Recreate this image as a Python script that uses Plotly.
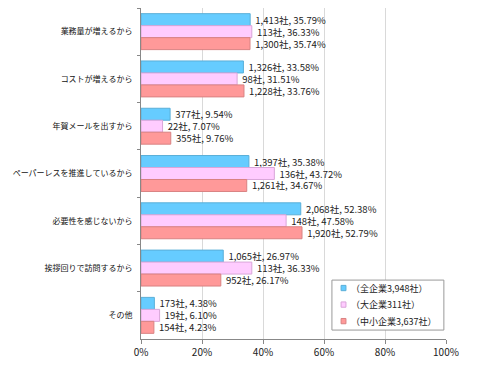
import plotly.graph_objects as go

categories = ["業務量が増えるから", "コストが増えるから", "年賀メールを出すから",
              "ペーパーレスを推進しているから", "必要性を感じないから",
              "挨拶回りで訪問するから", "その他"]
series_names = ["（全企業3,948社）", "（大企業311社）", "（中小企業3,637社）"]
pct_all = [35.79, 33.58, 9.54, 35.38, 52.38, 26.97, 4.38]
pct_large = [36.33, 31.51, 7.07, 43.72, 47.58, 36.33, 6.10]
pct_small = [35.74, 33.76, 9.76, 34.67, 52.79, 26.17, 4.23]
cnt_all = ["1,413", "1,326", "377", "1,397", "2,068", "1,065", "173"]
cnt_large = ["113", "98", "22", "136", "148", "113", "19"]
cnt_small = ["1,300", "1,228", "355", "1,261", "1,920", "952", "154"]
x_ticks = [0, 20, 40, 60, 80, 100]

fills = ["#66CCFF", "#FFCCFF", "#FF9999"]
lines = ["#5AAFD8", "#D9A6D9", "#D98282"]
FONT = "Noto Sans CJK JP"

fig = go.Figure()
for name, pct, cnt, fc, lc in zip(series_names, [pct_all, pct_large, pct_small],
                                  [cnt_all, cnt_large, cnt_small], fills, lines):
    fig.add_trace(go.Bar(
        y=categories, x=pct, orientation="h", name=name, showlegend=False,
        marker=dict(color=fc, line=dict(color=lc, width=1)),
        text=[f" {c}社, {p:.2f}%" for c, p in zip(cnt, pct)],
        textposition="outside", cliponaxis=False, constraintext="none",
        textfont=dict(family=FONT, size=9.5, color="#222"),
    ))

# manual legend (paper coordinates of the plot area)
legend_box = dict(x0=0.626, x1=0.993, y0=0.027, y1=0.178)
item_y = [0.154, 0.104, 0.054]
fig.add_shape(type="rect", xref="paper", yref="paper", **legend_box,
              line=dict(color="#999", width=1), fillcolor="white", layer="above")
for name, fc, lc, yy in zip(series_names, fills, lines, item_y):
    fig.add_shape(type="rect", xref="paper", yref="paper",
                  x0=0.656, x1=0.672, y0=yy - 0.008, y1=yy + 0.008,
                  line=dict(color=lc, width=1), fillcolor=fc, layer="above")
    fig.add_annotation(xref="paper", yref="paper", x=0.681, y=yy, text=name,
                       showarrow=False, xanchor="left", yanchor="middle",
                       font=dict(family=FONT, size=9, color="#222"))

fig.update_layout(
    width=490, height=368,
    margin=dict(l=141, r=44, t=8, b=29, autoexpand=False),
    barmode="group", bargap=0.24, bargroupgap=0,
    plot_bgcolor="white", paper_bgcolor="white",
    font=dict(family=FONT, size=10, color="#222"),
    showlegend=False,
)
fig.update_xaxes(range=[0, 100], tickvals=x_ticks, ticktext=[f"{t}%" for t in x_ticks],
                 showgrid=True, gridcolor="#D9D9D9", gridwidth=1,
                 showline=True, linecolor="#888", ticks="outside", ticklen=4,
                 tickcolor="#888", zeroline=False, tickfont=dict(size=10),
                 automargin=False)
fig.update_yaxes(autorange="reversed", showline=True, linecolor="#888",
                 ticks="outside", tickson="boundaries", ticklen=3, tickcolor="#888",
                 tickfont=dict(size=8, color="#111"), ticklabelstandoff=6,
                 automargin=False)

fig.write_html("out.html", config={"displayModeBar": False},
               post_script="document.body.style.margin='0';")
